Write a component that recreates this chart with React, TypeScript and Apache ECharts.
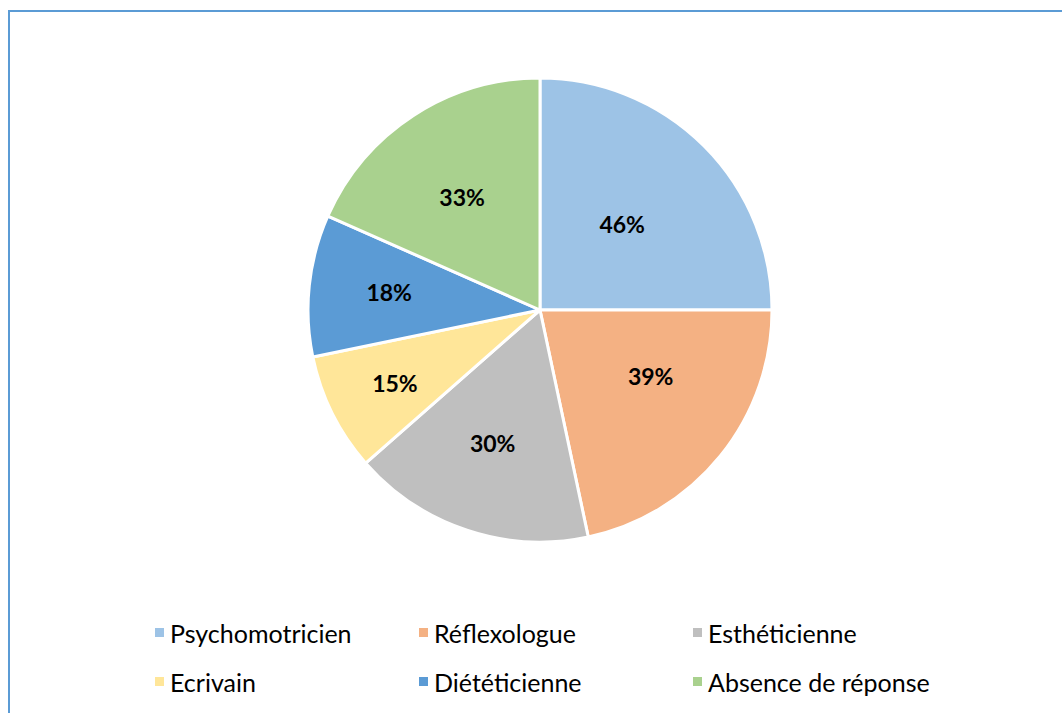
import React, { useEffect, useRef } from "react";
import * as echarts from "echarts";

const categories = ["Psychomotricien", "Réflexologue", "Esthéticienne", "Ecrivain", "Diététicienne", "Absence de réponse"];
// printed percentages on the slices
const percentLabels = [46, 39, 30, 15, 18, 33];
// slice sizes (degrees of the circle)
const sliceShares = [90, 78, 60.7, 29.6, 35.6, 66.1];
// how far out each label sits, relative to the default mid-radius spot
const labelRadialFactor = [1.0, 1.11, 1.21, 1.4, 1.3, 1.17];
// small extra nudges of the label spots (px)
const labelNudge = [[-2, -2], [8, -17], [-2, -4], [4, -1], [3, -2], [-2, 4]];
const colors = ["#9DC3E6", "#F4B183", "#BFBFBF", "#FFE699", "#5B9BD5", "#A9D18E"];
const legendColumns = [
  ["Psychomotricien", "Ecrivain"],
  ["Réflexologue", "Diététicienne"],
  ["Esthéticienne", "Absence de réponse"],
];
const legendLefts = [148, 412, 686];
const pieCenter = [540, 310];

export default function App() {
  const ref = useRef<HTMLDivElement>(null);
  useEffect(() => {
    if (!ref.current) return;
    const chart = echarts.init(ref.current, undefined, { renderer: "svg" });
    const font = "Lato, 'Liberation Sans', sans-serif";
    chart.setOption({
      animation: false,
      backgroundColor: "#ffffff",
      color: colors,
      graphic: [
        {
          type: "polyline",
          shape: { points: [[9, 720], [9, 11], [1070, 11]] },
          style: { stroke: "#5B9BD5", lineWidth: 2, fill: null },
        },
      ],
      legend: legendColumns.map((col, i) => ({
        orient: "vertical",
        left: legendLefts[i],
        top: 615,
        itemGap: 24,
        itemWidth: 11,
        itemHeight: 11,
        icon: "rect",
        data: col,
        textStyle: { fontFamily: font, fontSize: 25, color: "#000", padding: [0, 0, 0, 0] },
      })),
      series: [
        {
          type: "pie",
          center: pieCenter,
          radius: 232,
          startAngle: 90,
          clockwise: true,
          data: categories.map((c, i) => ({ name: c, value: sliceShares[i] })),
          itemStyle: { borderColor: "#ffffff", borderWidth: 3 },
          label: {
            position: "inside",
            formatter: (p: any) => `${percentLabels[p.dataIndex]}%`,
            fontFamily: font,
            fontSize: 23,
            fontWeight: "bold",
            color: "#000",
          },
          labelLayout: (params: any) => {
            const r = params.labelRect;
            const cx = r.x + r.width / 2;
            const cy = r.y + r.height / 2;
            const f = labelRadialFactor[params.dataIndex];
            const n = labelNudge[params.dataIndex];
            return {
              x: pieCenter[0] + (cx - pieCenter[0]) * f + n[0],
              y: pieCenter[1] + (cy - pieCenter[1]) * f + n[1],
              align: "center",
              verticalAlign: "middle",
            };
          },
          labelLine: { show: false },
          emphasis: { disabled: true },
        },
      ],
    });
    return () => chart.dispose();
  }, []);
  return <div ref={ref} style={{ position: "fixed", left: 0, top: 0, width: 1062, height: 713 }} />;
}
